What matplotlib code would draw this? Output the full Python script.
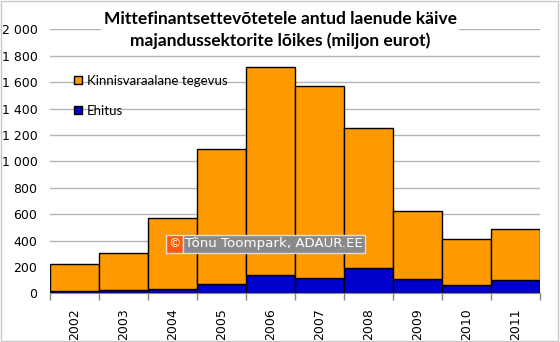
import matplotlib.pyplot as plt
from matplotlib.patches import Patch, Rectangle
from matplotlib.ticker import FuncFormatter

years = ["2002", "2003", "2004", "2005", "2006", "2007", "2008", "2009", "2010", "2011"]
ehitus = [20, 28, 35, 73, 141, 118, 192, 106, 65, 98]
kinnisvara = [203, 280, 534, 1022, 1573, 1450, 1058, 515, 349, 387]

orange = "#FF9900"
blue = "#0000CC"

fig = plt.figure(figsize=(5.6, 3.42), dpi=100)
ax = fig.add_axes([50 / 560, 1 - 293.3 / 342, 490 / 560, (293.3 - 29.3) / 342])

x = list(range(len(years)))
ax.bar(x, ehitus, width=1.0, color=blue, edgecolor="black", linewidth=1, zorder=3)
ax.bar(x, kinnisvara, width=1.0, bottom=ehitus, color=orange, edgecolor="black",
       linewidth=1, zorder=3)

ax.set_xlim(-0.5, len(years) - 0.5)
ax.set_ylim(0, 2000)
ax.set_yticks(range(0, 2001, 200))
ax.yaxis.set_major_formatter(FuncFormatter(lambda v, p: f"{int(v):,}".replace(",", " ")))
ax.tick_params(axis="y", length=0, labelsize=9, pad=9)
ax.grid(axis="y", color="#B4B4B4", linewidth=1, zorder=0)

ax.set_xticks(x)
ax.set_xticklabels(years, rotation=90, fontsize=9)
ax.tick_params(axis="x", which="major", length=0, pad=11)
ax.set_xticks([i - 0.5 for i in range(len(years) + 1)], minor=True)
ax.tick_params(axis="x", which="minor", length=5, color="#888888", width=1)

for s in ["left", "right", "top"]:
    ax.spines[s].set_visible(False)
ax.spines["bottom"].set_color("#888888")
ax.spines["bottom"].set_zorder(4)

fig.text(0.5, 1 - 30 / 342,
         "Mittefinantsettevõtetele antud laenude käive\nmajandussektorite lõikes (miljon eurot)",
         ha="center", va="center", fontsize=12.5, fontweight="bold", family="Lato",
         linespacing=1.45,
         bbox=dict(facecolor="white", edgecolor="none", pad=2))

handles = [Patch(facecolor=orange, edgecolor="black"), Patch(facecolor=blue, edgecolor="black")]
fig.legend(handles, ["Kinnisvaraalane tegevus", "Ehitus"], loc="upper left",
           bbox_to_anchor=(62 / 560, 1 - 63 / 342), frameon=False,
           prop={"family": "Lato", "size": 9.5}, handlelength=0.6, handleheight=0.6,
           handletextpad=0.4, labelspacing=1.35)

fig.text(168 / 560, 1 - 244 / 342, "©", ha="left", va="center", fontsize=9, color="white",
         bbox=dict(facecolor="#FF5A00", edgecolor="#DDDDDD", pad=1.5), zorder=10)
fig.text(185 / 560, 1 - 244 / 342, "Tõnu Toompark, ADAUR.EE", ha="left", va="center",
         fontsize=9.6, color="white",
         bbox=dict(facecolor="#8A8A8A", edgecolor="#DDDDDD", pad=1.5), zorder=10)

fig.patches.append(Rectangle((0.002, 0.003), 0.995, 0.994, transform=fig.transFigure,
                             fill=False, edgecolor="#C8C8C8", linewidth=1))

fig.savefig("out.png", dpi=100)
